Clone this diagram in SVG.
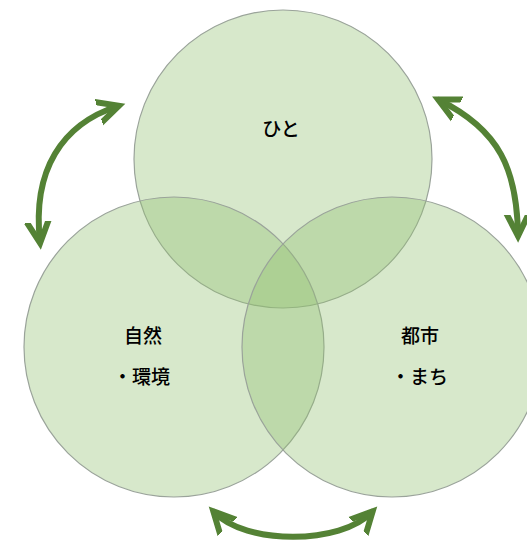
<svg xmlns="http://www.w3.org/2000/svg" width="527" height="544" viewBox="0 0 527 544">
<style>
.c{fill:#8fbf6f;fill-opacity:0.36;stroke:#9aa39a;stroke-width:1.2}
.t{font-family:"Noto Sans CJK JP","Noto Sans CJK SC",sans-serif;font-size:19px;font-weight:500;fill:#000;text-anchor:middle}
.s{text-anchor:start}
.a{fill:none;stroke:#548235;stroke-width:6;stroke-linecap:round}
</style>
<defs>
<marker id="h" markerUnits="userSpaceOnUse" markerWidth="40" markerHeight="40" refX="20" refY="20" orient="auto-start-reverse" viewBox="0 0 40 40">
<path d="M-1,9 L21,20 L-1,31" fill="none" stroke="#548235" stroke-width="6" stroke-linecap="round" stroke-linejoin="miter"/>
</marker>
</defs>
<rect width="527" height="544" fill="#fff"/>
<g id="top"><circle class="c" cx="283" cy="159" r="149"/><text class="t" x="281" y="136">ひと</text></g>
<g id="left"><circle class="c" cx="174" cy="347" r="150"/><text class="t" x="143" y="343">自然</text><text class="t s" x="113" y="384">・環境</text></g>
<g id="right"><circle class="c" cx="392" cy="347" r="150"/><text class="t" x="420" y="343">都市</text><text class="t s" x="391" y="384">・まち</text></g>
<g id="connectors">
<path class="a" d="M40,242 C32,170 62,124 118,106" marker-start="url(#h)" marker-end="url(#h)"/>
<path class="a" d="M518,235 C517,170 500,130 439,100" marker-start="url(#h)" marker-end="url(#h)"/>
<path class="a" d="M214,512 C245,545 341,545 372,512" marker-start="url(#h)" marker-end="url(#h)"/>
</g>
</svg>
